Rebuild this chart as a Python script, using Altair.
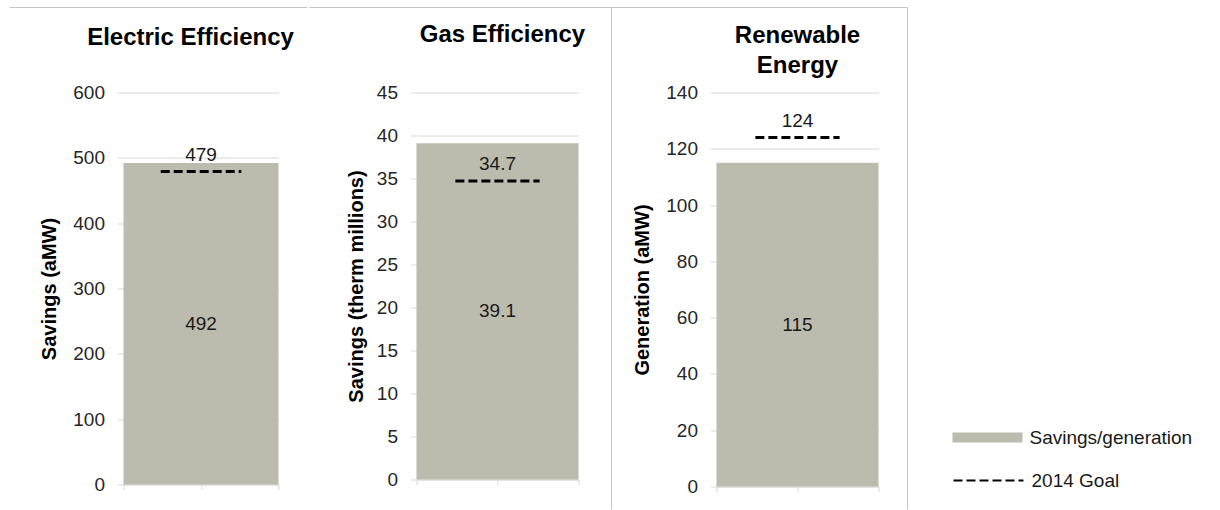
import altair as alt
import pandas as pd

FONT = "Liberation Sans"

# Panel contents
panel_titles = [["Electric Efficiency"], ["Gas Efficiency"], ["Renewable", "Energy"]]
axis_titles = ["Savings (aMW)", "Savings (therm millions)", "Generation (aMW)"]
achieved = [492, 39.1, 115]
goal_2014 = [479, 34.7, 124]
axis_max = [600, 45, 140]
axis_step = [100, 5, 20]
value_formats = ["d", ".1f", "d"]

series_bar = "Savings/generation"
series_goal = "2014 Goal"

# Styling
BAR_COLOR = "#BCBCAE"
GRID = "#D9D9D9"
FRAME = "#C4C4C4"
TEXT = "#1A1A1A"
TICK_TEXT = "#262626"

panel_width = [155, 162, 162]
panel_height = [392, 387, 394]
SPACING = 138
title_x = [67, 86, 81]
title_y = [-67, -70, -69]
title_pad = [13, 10, 13]
GOAL_SPAN = (0.24, 0.76)

bar_legend = alt.Legend(
    title=None, orient="none", legendX=829, legendY=310, padding=0,
    symbolType="M-1,-0.14H1V0.14H-1Z", symbolSize=4900, symbolStrokeWidth=0,
    labelFont=FONT, labelFontSize=19, labelColor=TEXT, labelOffset=7,
    labelLimit=400,
)
goal_legend = alt.Legend(
    title=None, orient="none", legendX=829, legendY=352, padding=0,
    symbolType="stroke", symbolSize=4900, symbolStrokeColor="black",
    symbolStrokeWidth=2,
    labelFont=FONT, labelFontSize=19, labelColor=TEXT, labelOffset=7,
    labelLimit=400,
)


def make_panel(i):
    row = pd.DataFrame({
        "achieved": [achieved[i]],
        "goal": [goal_2014[i]],
        "series": [series_bar],
        "goal_series": [series_goal],
    })
    base = alt.Chart(row)

    x_scale = alt.Scale(domain=[0, 1], nice=False, zero=False)
    x_axis = alt.Axis(values=[0, 0.5, 1], labels=False, tickSize=5,
                      tickColor=GRID, domainColor=GRID, grid=False, title=None)
    y_scale = alt.Scale(domain=[0, axis_max[i]], nice=False)
    y_axis = alt.Axis(
        values=list(range(0, axis_max[i] + 1, axis_step[i])),
        title=axis_titles[i], titlePadding=title_pad[i],
    )

    bar = base.mark_rect().encode(
        x=alt.XDatum(0, type="quantitative", scale=x_scale, axis=x_axis),
        x2=alt.X2Datum(1),
        y=alt.Y("achieved:Q", scale=y_scale, axis=y_axis),
        y2=alt.Y2Datum(0),
        color=alt.Color("series:N",
                        scale=alt.Scale(domain=[series_bar], range=[BAR_COLOR]),
                        legend=bar_legend),
    )

    goal = base.mark_rule(color="black", strokeWidth=3).encode(
        x=alt.XDatum(GOAL_SPAN[0], type="quantitative"),
        x2=alt.X2Datum(GOAL_SPAN[1]),
        y=alt.Y("goal:Q"),
        strokeDash=alt.StrokeDash("goal_series:N",
                                  scale=alt.Scale(domain=[series_goal], range=[[9, 4]]),
                                  legend=goal_legend),
    )

    mid_label = base.transform_calculate(mid="datum.achieved / 2").mark_text(
        font=FONT, fontSize=19, color=TEXT, baseline="middle", align="center"
    ).encode(
        x=alt.XDatum(0.5, type="quantitative"),
        y=alt.Y("mid:Q"),
        text=alt.Text("achieved:Q", format=value_formats[i]),
    )

    goal_label = base.mark_text(
        font=FONT, fontSize=19, color=TEXT, baseline="alphabetic", align="center", dy=-11
    ).encode(
        x=alt.XDatum(0.5, type="quantitative"),
        y=alt.Y("goal:Q"),
        text=alt.Text("goal:Q", format=value_formats[i]),
    )

    heading = base.mark_text(
        text=panel_titles[i], font=FONT, fontSize=24, fontWeight="bold",
        color="black", baseline="top", align="center", lineHeight=30,
    ).encode(x=alt.value(title_x[i]), y=alt.value(title_y[i]))

    layers = [bar, goal, mid_label, goal_label, heading]

    if i == 0:
        # thin border lines framing the panels
        frame_style = dict(color=FRAME, strokeWidth=1)
        layers += [
            base.mark_rule(**frame_style).encode(
                x=alt.value(-114), x2=alt.value(184), y=alt.value(-85)),
            base.mark_rule(**frame_style).encode(
                x=alt.value(186), x2=alt.value(784), y=alt.value(-85)),
            base.mark_rule(**frame_style).encode(
                x=alt.value(488), y=alt.value(-85), y2=alt.value(417)),
            base.mark_rule(**frame_style).encode(
                x=alt.value(784), y=alt.value(-85), y2=alt.value(417)),
        ]

    return alt.layer(*layers).properties(width=panel_width[i], height=panel_height[i])


chart = alt.hconcat(
    *[make_panel(i) for i in range(3)], spacing=SPACING, bounds="flush"
).resolve_scale(
    x="independent", y="independent"
).properties(
    padding={"left": 8.5, "top": 6.5, "right": 0, "bottom": 0},
    background="white",
).configure_view(
    strokeWidth=0
).configure_axisY(
    labelFont=FONT, labelFontSize=19, labelColor=TICK_TEXT, labelPadding=13,
    tickSize=6, tickColor=GRID, domain=False, grid=True, gridColor=GRID,
    titleFont=FONT, titleFontSize=20, titleFontWeight="bold", titleColor="black",
)

chart.save("out.html", embed_options={"renderer": "svg", "actions": False})
